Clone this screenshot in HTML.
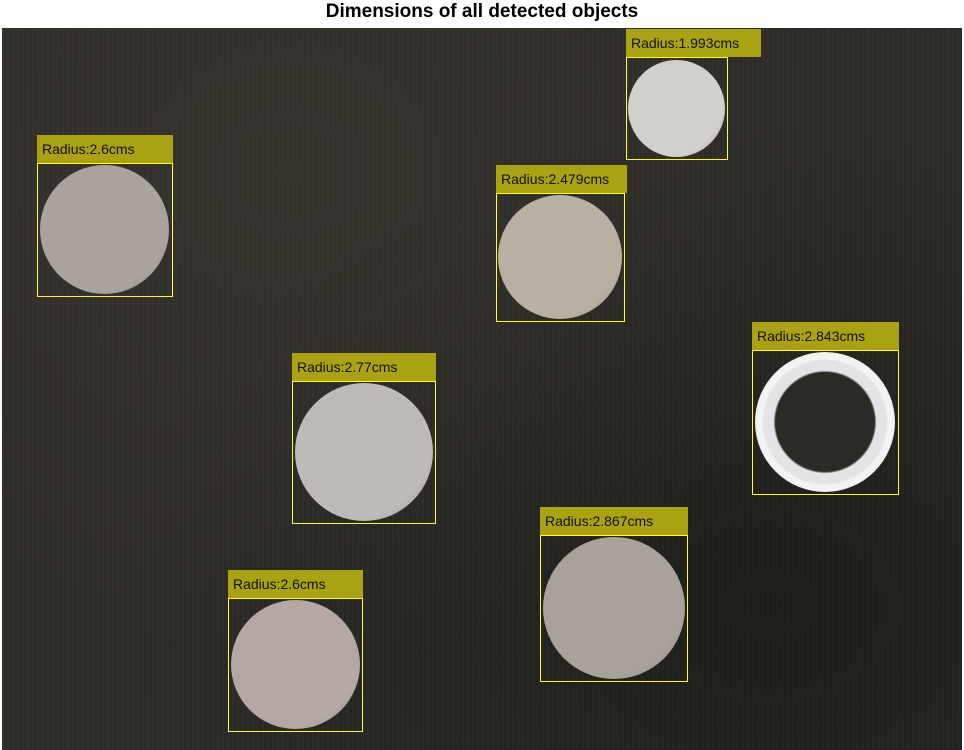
<!DOCTYPE html>
<html><head><meta charset="utf-8">
<style>
html,body{margin:0;padding:0;background:#fff;}
#wrap{position:relative;width:964px;height:750px;overflow:hidden;font-family:"Liberation Sans",sans-serif;}
#title{position:absolute;left:0;width:964px;top:1px;text-align:center;font-weight:bold;font-size:19px;color:#000;}
#photo{position:absolute;left:2px;top:28px;width:960px;height:722px;
background:
 radial-gradient(ellipse at 30% 20%, rgba(64,60,52,0.5), transparent 60%),
 radial-gradient(ellipse at 80% 80%, rgba(15,15,14,0.5), transparent 60%),
 repeating-linear-gradient(90deg, rgba(255,255,255,0.02) 0 2px, rgba(0,0,0,0.03) 2px 5px),
 #2e2c28;}
.lab{position:absolute;background:#a9a313;color:#111;font-size:14px;line-height:28px;padding-left:5px;box-sizing:border-box;white-space:nowrap;overflow:visible;}
.box{position:absolute;border:1.5px solid #ffff1a;box-sizing:border-box;}
.coin{position:absolute;border-radius:50%;}
</style></head><body>
<div id="wrap">
<div id="title">Dimensions of all detected objects</div>
<div id="photo"></div>
</div>
<script>
const labels=["Radius:1.993cms","Radius:2.6cms","Radius:2.479cms","Radius:2.843cms","Radius:2.77cms","Radius:2.867cms","Radius:2.6cms"];
const boxLeft=[626,37,496,752,292,540,228];
const boxTop=[57,163,193,350,381,535,598];
const boxRight=[727,172,624,898,435,687,362];
const boxBottom=[159,296,321,494,523,681,731];
const labelRight=[760,172,626,898,435,687,362];
const coinColor=["#d2d0cc","#aaa29d","#b8b0a2","ring","#bdbab8","#a9a29a","#b5a8a4"];
const wrap=document.getElementById('wrap');
for(let i=0;i<labels.length;i++){
  const L=boxLeft[i],T=boxTop[i],R=boxRight[i],B=boxBottom[i];
  const w=R-L,h=B-T;
  const c=document.createElement('div');
  c.className='coin';
  
  
  const d=Math.min(w,h)-4;
  c.style.left=(L+(w-d)/2)+'px';c.style.top=(T+(h-d)/2)+'px';
  c.style.width=d+'px';c.style.height=d+'px';
  if(coinColor[i]==='ring'){
    c.style.background='radial-gradient(circle, #2c2a26 0 50%, #e4e4e6 52% 62%, #f4f4f6 64%, #e2e2e4 98%, transparent 100%)';
  } else {
    c.style.background='radial-gradient(circle at 40% 40%, '+coinColor[i]+' 0%, '+coinColor[i]+' 70%, #8c867e 100%)';
  }
  wrap.appendChild(c);
  const b=document.createElement('div');
  b.className='box';
  
  
  b.style.left=L+'px';b.style.top=T+'px';b.style.width=(w+1)+'px';b.style.height=(h+1)+'px';
  wrap.appendChild(b);
  const lb=document.createElement('div');
  lb.className='lab';
  
  
  lb.style.left=L+'px';lb.style.top=(T-28)+'px';lb.style.width=(labelRight[i]-L+1)+'px';lb.style.height='28px';
  lb.textContent=labels[i];
  wrap.appendChild(lb);
}
</script>
</body></html>
